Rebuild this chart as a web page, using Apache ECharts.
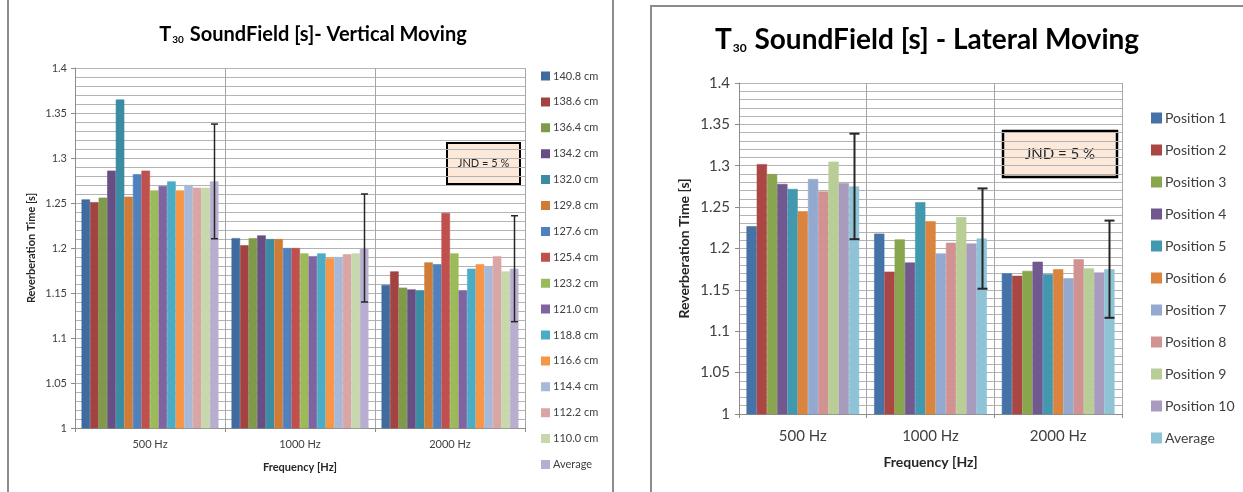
<!DOCTYPE html>
<html>
<head>
<meta charset="utf-8">
<title>T30 SoundField</title>
<script src="https://cdn.jsdelivr.net/npm/echarts@6.0.0/dist/echarts.min.js"></script>
<style>
  html, body { margin: 0; padding: 0; background: #ffffff; }
  #wrap { position: relative; width: 1243px; height: 492px; overflow: hidden; }
  .chart { position: absolute; left: 0; top: 0; width: 1243px; height: 492px; }
</style>
</head>
<body>
<div id="wrap">
  <div id="vertical" class="chart"></div>
  <div id="lateral" class="chart"></div>
</div>
<script>
// ---- data ---------------------------------------------------------------
const bands = ['500 Hz', '1000 Hz', '2000 Hz'];
const JND_PCT = 5; // just-noticeable difference, drawn as ± error bar on the average

// Vertical moving: microphone heights
const verticalNames = ['140.8 cm', '138.6 cm', '136.4 cm', '134.2 cm', '132.0 cm', '129.8 cm',
  '127.6 cm', '125.4 cm', '123.2 cm', '121.0 cm', '118.8 cm', '116.6 cm', '114.4 cm',
  '112.2 cm', '110.0 cm', 'Average'];
const vertical500  = [1.254, 1.251, 1.256, 1.286, 1.365, 1.257, 1.282, 1.286, 1.264, 1.269, 1.274, 1.264, 1.270, 1.267, 1.267, 1.274];
const vertical1000 = [1.211, 1.203, 1.211, 1.214, 1.210, 1.210, 1.200, 1.200, 1.194, 1.191, 1.194, 1.189, 1.190, 1.193, 1.194, 1.200];
const vertical2000 = [1.159, 1.174, 1.156, 1.154, 1.153, 1.184, 1.182, 1.239, 1.194, 1.153, 1.177, 1.182, 1.180, 1.191, 1.174, 1.177];

// Lateral moving: measurement positions
const lateralNames = ['Position 1', 'Position 2', 'Position 3', 'Position 4', 'Position 5',
  'Position 6', 'Position 7', 'Position 8', 'Position 9', 'Position 10', 'Average'];
const lateral500  = [1.227, 1.302, 1.290, 1.278, 1.272, 1.245, 1.284, 1.269, 1.305, 1.279, 1.275];
const lateral1000 = [1.218, 1.172, 1.211, 1.183, 1.256, 1.233, 1.194, 1.207, 1.238, 1.206, 1.212];
const lateral2000 = [1.170, 1.167, 1.173, 1.184, 1.169, 1.175, 1.164, 1.187, 1.176, 1.171, 1.175];

// ---- styling --------------------------------------------------------------
const verticalColors = ['#3f6b9f', '#a14441', '#7f9b4a', '#674f86', '#3b8ca3', '#d07c37',
  '#4e81bd', '#c0504d', '#9bbb59', '#8064a2', '#4bacc6', '#f79646',
  '#a7b8d9', '#d9a6a5', '#c7d8ad', '#b8afd0'];
const lateralColors = ['#4572a7', '#aa4643', '#89a54e', '#71588f', '#4198af', '#db843d',
  '#93a9cf', '#d19392', '#b9cd96', '#a99bbd', '#8fc3d6'];

const FONT = 'Lato, "Open Sans", sans-serif';
const GRID_COLOR = '#b3b3b3';

function buildOption(cfg) {
  const n = cfg.names.length;
  const perBand = cfg.values;
  const bars = cfg.names.map((name, i) => ({
    name: name,
    type: 'bar',
    data: perBand.map(v => v[i]),
    // a hairline border in the fill colour keeps neighbouring bars flush
    itemStyle: { color: cfg.colors[i], borderColor: cfg.colors[i], borderWidth: 0.6 },
    barGap: '0%',
    barCategoryGap: (cfg.gap * 100) + '%',
    emphasis: { disabled: true },
    silent: true
  }));

  // ± JND around the average value of every band
  const errData = perBand.map((v, b) => {
    const avg = v[n - 1];
    const d = avg * JND_PCT / 100;
    return [b, avg - d, avg + d];
  });

  const errSeries = {
    type: 'custom',
    name: 'JND',
    silent: true,
    z: 10,
    encode: { x: 0, y: [1, 2] },
    data: errData,
    renderItem: function (params, api) {
      const band = api.size([1, 0])[0];
      const barW = band * (1 - cfg.gap) / n;
      const dx = (n - 1) / 2 * barW;
      const hi = api.coord([api.value(0), api.value(2)]);
      const lo = api.coord([api.value(0), api.value(1)]);
      const x = Math.round(hi[0] + dx) + 0.5;
      const c = cfg.capHalf;
      const style = { stroke: '#262626', lineWidth: cfg.errWidth };
      return {
        type: 'group',
        children: [
          { type: 'line', shape: { x1: x, y1: hi[1], x2: x, y2: lo[1] }, style: style },
          { type: 'line', shape: { x1: x - c, y1: hi[1], x2: x + c, y2: hi[1] }, style: style },
          { type: 'line', shape: { x1: x - c, y1: lo[1], x2: x + c, y2: lo[1] }, style: style }
        ]
      };
    }
  };

  return {
    animation: false,
    backgroundColor: 'transparent',
    textStyle: { fontFamily: FONT },
    grid: Object.assign({ outerBoundsMode: 'none', containLabel: false }, cfg.grid),
    legend: {
      orient: 'vertical',
      left: cfg.legend.left,
      top: cfg.legend.top,
      padding: 0,
      icon: 'rect',
      itemWidth: cfg.legend.icon,
      itemHeight: cfg.legend.icon,
      itemGap: cfg.legend.gap,
      selectedMode: false,
      data: cfg.names,
      textStyle: {
        fontFamily: FONT, fontSize: cfg.legend.fontSize, color: '#404040',
        lineHeight: cfg.legend.lineHeight, padding: [0, 0, 0, -1]
      }
    },
    xAxis: {
      type: 'category',
      data: bands,
      name: 'Frequency [Hz]',
      nameLocation: 'middle',
      nameGap: cfg.xNameGap,
      nameTextStyle: { fontFamily: FONT, fontWeight: 'bold', fontSize: cfg.nameSize, color: '#262626' },
      axisLine: { show: true, lineStyle: { color: '#8c8c8c', width: 1 } },
      axisTick: { show: true, length: 4, lineStyle: { color: '#8c8c8c' } },
      axisLabel: { fontFamily: FONT, fontSize: cfg.labelSize, color: '#404040', margin: cfg.xLabelMargin },
      splitLine: { show: true, lineStyle: { color: '#a6a6a6', width: 1 } }
    },
    yAxis: {
      type: 'value',
      min: 1,
      max: 1.4,
      interval: 0.05,
      name: 'Reverberation Time [s]',
      nameLocation: 'middle',
      nameGap: cfg.yNameGap,
      nameTextStyle: { fontFamily: FONT, fontWeight: 'bold', fontSize: cfg.nameSize, color: '#262626' },
      axisLine: { show: true, lineStyle: { color: '#8c8c8c', width: 1 } },
      axisTick: { show: true, length: 4, lineStyle: { color: '#8c8c8c' } },
      axisLabel: { fontFamily: FONT, fontSize: cfg.labelSize, color: '#404040', margin: cfg.yLabelMargin },
      splitLine: { show: true, lineStyle: { color: GRID_COLOR, width: 1 } },
      minorTick: { show: false, splitNumber: 5 },
      minorSplitLine: { show: true, lineStyle: { color: GRID_COLOR, width: 1 } }
    },
    series: bars.concat([errSeries]),
    graphic: cfg.graphic
  };
}

function titleText(x, y, size, subSize, rest) {
  return {
    type: 'text',
    x: x, y: y,
    silent: true,
    style: {
      text: '{t|T}{s|30}{t|' + rest + '}',
      align: 'center',
      verticalAlign: 'middle',
      rich: {
        t: { fontFamily: FONT, fontWeight: 'bold', fontSize: size, fill: '#000000', verticalAlign: 'bottom' },
        s: { fontFamily: FONT, fontWeight: 'bold', fontSize: subSize, fill: '#000000', verticalAlign: 'bottom', padding: [0, 1, 0, 1] }
      }
    }
  };
}

function jndBox(x, y, w, h, lw, size) {
  return {
    type: 'group',
    silent: true,
    z: 20,
    children: [
      { type: 'rect', shape: { x: x, y: y, width: w, height: h },
        style: { fill: '#fde9d9', stroke: '#000000', lineWidth: lw } },
      { type: 'text', x: x + w / 2, y: y + h / 2,
        style: { text: 'JND = ' + JND_PCT + ' %', align: 'center', verticalAlign: 'middle',
          fontFamily: FONT, fontSize: size, fill: '#262626' } }
    ]
  };
}

// ---- vertical moving chart (left panel) --------------------------------
const verticalChart = echarts.init(document.getElementById('vertical'), null, { renderer: 'canvas' });
verticalChart.setOption(buildOption({
  names: verticalNames,
  values: [vertical500, vertical1000, vertical2000],
  colors: verticalColors,
  gap: 0.087,
  capHalf: 3.5,
  errWidth: 1.5,
  grid: { left: 75, top: 68, width: 450, height: 360 },
  legend: { left: 541, top: 70, icon: 7, gap: 13.9, fontSize: 11, lineHeight: 12 },
  labelSize: 11,
  nameSize: 11,
  xNameGap: 34,
  yNameGap: 38,
  xLabelMargin: 11,
  yLabelMargin: 8,
  graphic: [
    { type: 'line', silent: true, shape: { x1: 8, y1: 0, x2: 8, y2: 492 }, style: { stroke: '#8c8c8c', lineWidth: 2 } },
    { type: 'line', silent: true, shape: { x1: 613, y1: 0, x2: 613, y2: 492 }, style: { stroke: '#8c8c8c', lineWidth: 2 } },
    { type: 'polyline', silent: true, shape: { points: [[651, 492], [651, 6], [1243, 6]] }, style: { stroke: '#8c8c8c', lineWidth: 2, fill: null } },
    titleText(313, 35, 20, 10, ' SoundField [s]- Vertical Moving'),
    jndBox(447, 143, 73, 41, 2, 11)
  ]
}));

// ---- lateral moving chart (right panel) ---------------------------------
const lateralChart = echarts.init(document.getElementById('lateral'), null, { renderer: 'canvas' });
lateralChart.setOption(buildOption({
  names: lateralNames,
  values: [lateral500, lateral1000, lateral2000],
  colors: lateralColors,
  gap: 0.117,
  capHalf: 5,
  errWidth: 2,
  grid: { left: 739, top: 83, width: 383, height: 331 },
  legend: { left: 1151, top: 110, icon: 9, gap: 16, fontSize: 14, lineHeight: 16 },
  labelSize: 15,
  nameSize: 14,
  xNameGap: 41,
  yNameGap: 48,
  xLabelMargin: 15,
  yLabelMargin: 9,
  graphic: [
    titleText(927, 40, 28, 12, ' SoundField [s] - Lateral Moving'),
    jndBox(1003, 131, 114, 46, 2.5, 15)
  ]
}));
</script>
</body>
</html>
